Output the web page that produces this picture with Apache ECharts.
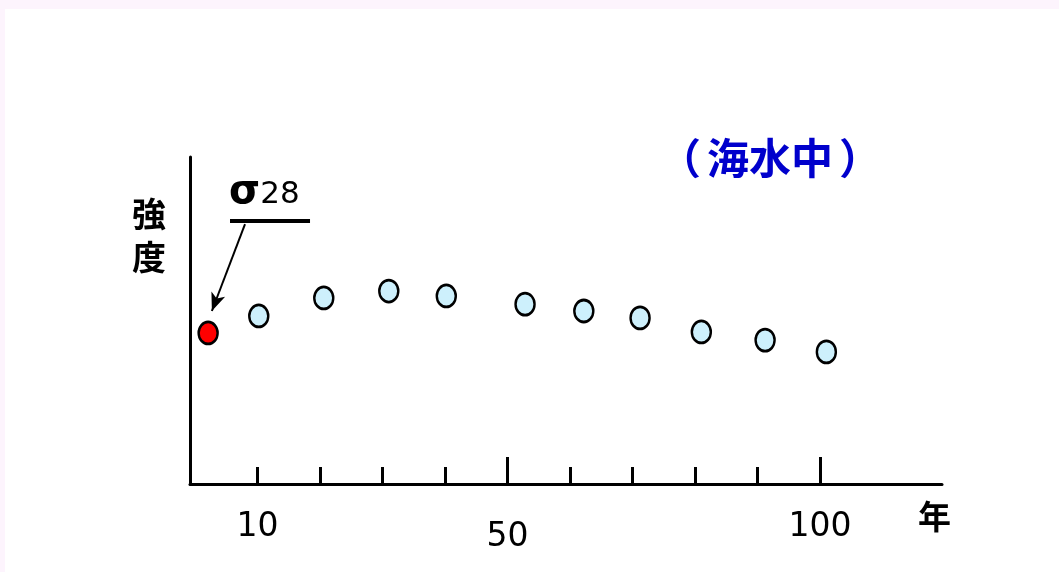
<!DOCTYPE html>
<html>
<head>
<meta charset="utf-8">
<script src="https://cdn.jsdelivr.net/npm/echarts@6/dist/echarts.min.js"></script>
<style>
  html, body { margin: 0; padding: 0; background: #fff; }
  #chart { width: 1059px; height: 572px; }
</style>
</head>
<body>
<div id="chart"></div>
<script>
// x = years (schematic), y = relative strength (arbitrary units)
const firstPoint = [[2.1, 46.2]];
const laterYears = [10.2, 20.6, 31.0, 40.2, 52.8, 62.2, 71.2, 81.0, 91.2, 101.0];
const laterStrength = [51.4, 56.9, 59.0, 57.5, 55.0, 52.9, 50.8, 46.5, 44.0, 40.4];
const minorTicks = [10, 20, 30, 40, 50, 60, 70, 80, 90, 100];
const majorTicks = [50, 100];
const labelsNear = [10, 100];
const labelsFar = [50];
// annotation for sigma28 (data units)
const underline = [[5.6, 80.4], [18.4, 80.4]];
const arrow = [[8.0, 79.5], [2.7, 52.9]];

const chart = echarts.init(document.getElementById("chart"));

const baseX = {
  type: "value",
  min: -0.8,
  max: 119.5,
  splitLine: { show: false },
};

const options = {
  backgroundColor: "#ffffff",
  animation: false,
  grid: { left: 190, right: 117, top: 157, bottom: 88 },
  xAxis: [
    Object.assign({}, baseX, {
      axisLine: { show: true, lineStyle: { color: "#000", width: 3 } },
      axisTick: {
        show: true,
        inside: true,
        length: 17,
        customValues: minorTicks,
        lineStyle: { color: "#000", width: 3 },
      },
      axisLabel: {
        show: true,
        customValues: labelsNear,
        margin: 27,
        fontSize: 33,
        fontFamily: "DejaVu Sans",
        color: "#000",
      },
    }),
    Object.assign({}, baseX, {
      position: "bottom",
      axisLine: { show: false },
      axisTick: {
        show: true,
        inside: true,
        length: 27,
        customValues: majorTicks,
        lineStyle: { color: "#000", width: 3 },
      },
      axisLabel: {
        show: true,
        customValues: labelsFar,
        margin: 37,
        fontSize: 33,
        fontFamily: "DejaVu Sans",
        color: "#000",
      },
    }),
  ],
  yAxis: {
    type: "value",
    min: 0,
    max: 100,
    axisLine: { show: true, onZero: false, lineStyle: { color: "#000", width: 3 } },
    axisTick: { show: false },
    axisLabel: { show: false },
    splitLine: { show: false },
  },
  graphic: [
    { type: "rect", shape: { x: 0, y: 0, width: 1059, height: 9 }, style: { fill: "#fdf4fd" }, silent: true },
    { type: "rect", shape: { x: 0, y: 0, width: 5, height: 572 }, style: { fill: "#fdf4fd" }, silent: true },
    {
      type: "text", x: 770, y: 158,
      style: {
        text: "{l|（}{t|海水中}{r|）}",
        align: "center", verticalAlign: "middle",
        rich: {
          l: { fill: "#0000cc", fontFamily: "Noto Sans CJK JP", fontWeight: "bold", fontSize: 42, padding: [0, 6, 0, 0] },
          t: { fill: "#0000cc", fontFamily: "Noto Sans CJK JP", fontWeight: "bold", fontSize: 42 },
          r: { fill: "#0000cc", fontFamily: "Noto Sans CJK JP", fontWeight: "bold", fontSize: 42, padding: [0, 0, 0, 6] },
        },
      },
    },
    {
      type: "text", left: 132, top: 197,
      style: { text: "強", fill: "#000", font: "bold 34px 'Noto Sans CJK JP'" },
    },
    {
      type: "text", left: 132, top: 240,
      style: { text: "度", fill: "#000", font: "bold 34px 'Noto Sans CJK JP'" },
    },
    {
      type: "text", left: 918, top: 500,
      style: { text: "年", fill: "#000", font: "bold 33px 'Noto Sans CJK JP'" },
    },
    {
      type: "text", x: 229, y: 173,
      style: {
        text: "{s|σ}{n|28}",
        rich: {
          s: { fontFamily: "DejaVu Sans", fontWeight: "bold", fontSize: 40, fill: "#000", lineHeight: 40, verticalAlign: "bottom" },
          n: { fontFamily: "DejaVu Sans", fontSize: 31, fill: "#000", lineHeight: 40, verticalAlign: "bottom", padding: [0, 0, 3, 0] },
        },
      },
    },
  ],
  series: [
    {
      type: "scatter",
      data: laterYears.map((x, i) => [x, laterStrength[i]]),
      symbol: "circle",
      symbolSize: [19, 22],
      itemStyle: { color: "#cdf0fc", borderColor: "#000", borderWidth: 2.6, opacity: 1 },
      z: 3,
    },
    {
      type: "scatter",
      data: firstPoint,
      symbol: "circle",
      symbolSize: [19, 22],
      itemStyle: { color: "#ff0000", borderColor: "#000", borderWidth: 2.6, opacity: 1 },
      z: 3,
      markLine: {
        silent: true,
        animation: false,
        label: { show: false },
        data: [
          [
            { coord: underline[0], symbol: "none", lineStyle: { color: "#000", width: 4, type: "solid" } },
            { coord: underline[1], symbol: "none" },
          ],
          [
            { coord: arrow[0], symbol: "none", lineStyle: { color: "#000", width: 2, type: "solid" } },
            { coord: arrow[1], symbol: "arrow", symbolSize: [11, 18] },
          ],
        ],
      },
    },
  ],
};

chart.setOption(options);
</script>
</body>
</html>
